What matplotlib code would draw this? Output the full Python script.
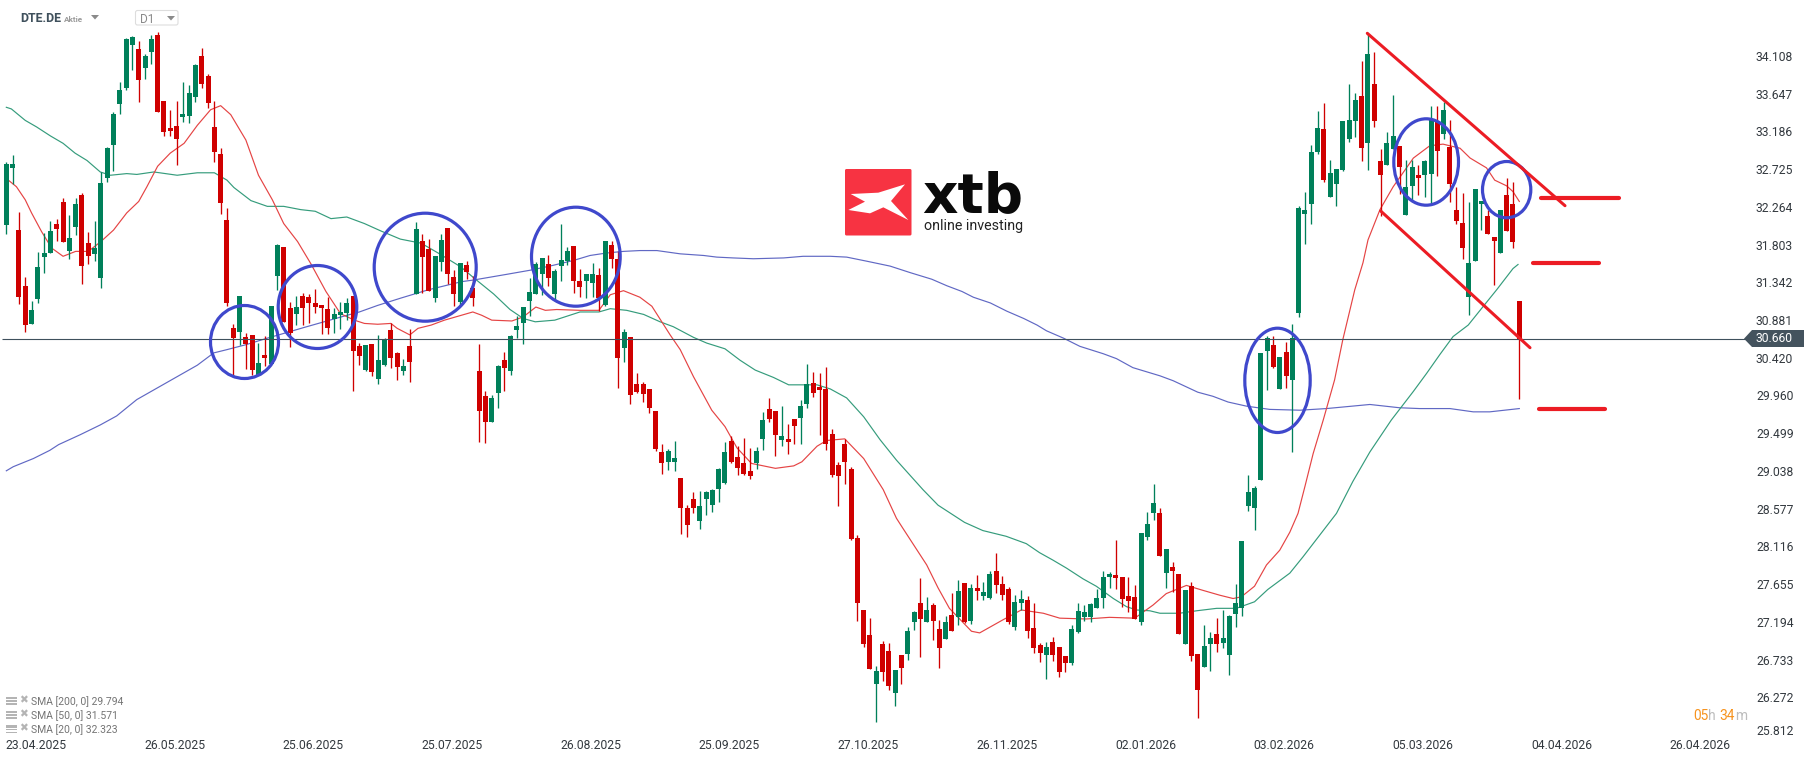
import matplotlib
matplotlib.use("Agg")
import matplotlib.pyplot as plt
import matplotlib.patheffects as pe
from matplotlib.patches import Ellipse, Polygon, Rectangle, FancyBboxPatch
from matplotlib.transforms import ScaledTranslation

plt.rcParams['font.family'] = ['Roboto', 'DejaVu Sans']

opens = [
 32.05,32.75,31.99,31.31,30.84,31.15,31.66,31.71,32.06,32.33,
 31.74,32.03,32.42,31.83,31.70,31.41,32.63,33.03,33.53,33.73,
 34.25,34.20,33.97,34.17,34.37,33.57,33.24,33.26,33.37,33.38,
 33.62,34.12,33.87,33.25,32.92,32.11,30.80,30.75,30.69,30.71,
 30.22,30.47,30.36,31.43,31.78,31.04,30.97,31.19,31.17,31.10,
 31.08,31.03,30.91,30.95,30.98,31.19,30.58,30.28,30.60,30.17,
 30.34,30.77,30.49,30.27,30.58,31.21,31.86,31.76,31.16,31.60,
 32.02,31.42,31.11,31.56,31.28,30.27,29.96,29.64,30.00,30.40,
 30.27,30.77,30.86,31.12,31.21,31.45,31.58,31.21,31.55,31.61,
 31.80,31.37,31.37,31.34,31.44,31.08,31.81,31.64,30.55,30.69,
 30.11,30.11,30.05,29.78,29.28,29.16,29.16,28.96,28.59,28.71,
 28.44,28.71,28.63,28.83,28.90,29.42,29.22,29.15,29.05,29.15,
 29.44,29.81,29.78,29.43,29.44,29.68,29.70,29.87,30.12,30.07,
 30.05,29.50,29.12,29.38,29.07,28.23,27.35,27.05,26.44,26.94,
 26.85,26.33,26.80,26.81,27.20,27.44,27.20,27.41,27.12,26.99,
 27.29,27.27,27.68,27.22,27.62,27.52,27.50,27.83,27.67,27.61,
 27.14,27.44,27.47,27.13,26.92,26.80,26.96,26.90,26.79,26.70,
 27.08,27.27,27.27,27.38,27.50,27.75,27.78,27.75,27.52,27.51,
 27.20,28.24,28.54,28.54,27.80,27.88,27.79,26.94,27.64,26.81,
 26.65,26.94,27.06,26.95,26.80,27.30,27.38,28.62,28.60,28.94,
 30.51,30.59,30.05,30.50,30.16,30.98,32.19,32.31,32.94,33.23,
 32.40,32.55,32.72,33.10,33.32,33.63,33.05,33.77,32.83,32.79,
 32.98,33.02,32.17,32.53,32.66,32.66,32.68,33.32,33.16,33.00,
 32.24,32.08,31.17,31.61,32.31,32.16,31.91,31.71,32.42,32.31,
 31.12]
closes = [
 32.80,32.80,31.17,30.83,31.01,31.54,31.71,31.98,32.00,31.85,
 31.89,32.31,31.55,31.67,31.77,32.57,32.99,33.41,33.70,34.32,
 34.35,33.82,34.12,34.32,33.43,33.19,33.20,33.10,33.41,33.66,
 34.01,33.77,33.54,32.94,32.32,31.10,30.67,31.19,30.60,30.28,
 30.37,30.43,31.06,31.81,30.87,30.73,31.05,31.04,31.10,31.05,
 31.04,30.80,30.97,30.99,31.10,30.51,30.45,30.59,30.26,30.40,
 30.66,30.43,30.32,30.33,30.38,32.00,31.66,31.25,31.67,31.87,
 31.45,31.21,31.59,31.48,31.16,29.78,29.65,29.94,30.33,30.31,
 30.70,30.82,31.05,31.23,31.58,31.65,31.41,31.49,31.63,31.74,
 31.37,31.30,31.45,31.45,31.16,31.86,31.64,30.43,30.75,29.98,
 30.01,29.99,29.82,29.32,29.15,29.29,29.21,28.60,28.39,28.60,
 28.62,28.79,28.82,29.07,29.28,29.16,29.09,29.01,28.99,29.29,
 29.67,29.68,29.49,29.48,29.40,29.60,29.84,30.11,30.00,30.04,
 29.38,29.00,28.99,29.16,28.22,27.44,26.94,26.63,26.61,26.59,
 26.42,26.62,26.64,27.09,27.33,27.24,27.35,27.22,26.89,27.20,
 27.09,27.58,27.20,27.62,27.58,27.57,27.79,27.66,27.53,27.20,
 27.45,27.49,27.09,26.89,26.83,26.90,26.80,26.59,26.70,27.12,
 27.34,27.33,27.42,27.50,27.75,27.79,27.74,27.49,27.46,27.24,
 28.29,28.40,28.66,28.01,28.10,27.82,27.06,27.60,26.79,26.37,
 26.91,27.01,26.94,27.01,27.28,27.44,28.19,28.79,28.84,30.49,
 30.67,30.32,30.44,30.21,30.67,32.26,32.24,32.94,33.24,32.60,
 32.69,32.74,33.32,33.33,33.58,32.99,34.14,33.32,32.66,33.05,
 33.14,32.76,32.52,32.76,32.63,32.83,33.33,32.96,33.46,32.55,
 32.10,31.77,31.59,32.49,32.35,31.94,31.86,32.24,31.98,31.85,
 30.66]
highs = [
 32.82,32.91,32.21,31.42,31.12,31.72,31.96,32.10,32.13,32.38,
 32.17,32.38,32.44,31.97,32.10,32.70,33.00,33.43,33.80,34.34,
 34.36,34.30,34.14,34.37,34.41,33.57,33.46,33.57,33.80,33.76,
 34.02,34.21,33.90,33.57,32.99,32.26,30.84,31.19,30.73,30.71,
 30.61,30.70,31.06,31.82,31.78,31.11,31.19,31.22,31.21,31.27,
 31.08,31.17,31.04,31.11,31.16,31.19,30.61,30.59,30.60,30.71,
 30.67,30.86,30.50,30.42,30.78,32.09,31.94,31.88,31.67,31.94,
 32.02,31.50,31.59,31.61,31.43,30.60,30.03,29.98,30.34,30.50,
 30.71,30.94,31.05,31.41,31.60,31.65,31.69,31.52,32.06,31.78,
 31.80,31.52,31.45,31.59,31.53,31.86,31.86,31.74,30.78,30.69,
 30.25,30.14,30.05,29.78,29.38,29.32,29.42,28.96,28.63,28.79,
 28.80,28.80,28.83,29.09,29.40,29.48,29.35,29.45,29.33,29.34,
 29.77,29.94,29.78,29.84,29.62,29.68,29.92,30.36,30.26,30.25,
 30.32,29.56,29.16,29.44,29.10,28.27,27.35,27.25,26.67,26.97,
 26.95,26.62,26.80,27.14,27.34,27.74,27.51,27.44,27.23,27.28,
 27.56,27.72,27.68,27.67,27.78,27.69,27.83,28.05,27.77,27.63,
 27.53,27.59,27.52,27.44,26.95,26.96,27.02,26.90,26.79,27.17,
 27.44,27.41,27.44,27.61,27.83,27.81,28.21,27.75,27.75,27.66,
 28.29,28.55,28.89,28.60,28.10,27.93,27.79,27.60,27.69,26.81,
 27.17,27.08,27.25,27.35,27.29,27.67,28.19,29.00,28.87,30.49,
 30.70,30.70,30.44,30.62,30.84,32.29,32.46,33.03,33.45,33.54,
 32.85,32.74,33.32,33.77,33.66,34.05,34.39,34.17,32.98,33.19,
 33.64,33.02,32.85,32.85,32.79,32.85,33.51,33.51,33.55,33.33,
 32.52,32.44,32.33,32.49,32.35,32.24,31.91,32.24,32.63,32.58,
 31.12]
lows = [
 31.94,32.55,31.09,30.75,30.84,31.10,31.47,31.71,31.86,31.85,
 31.64,31.93,31.33,31.58,31.61,31.28,32.58,32.71,33.41,33.70,
 33.95,33.55,33.84,34.02,33.43,33.14,33.14,32.79,33.31,33.30,
 33.55,33.73,33.48,32.82,32.19,31.06,30.20,30.59,30.29,30.22,
 30.22,30.33,30.36,31.26,30.87,30.56,30.83,30.83,30.86,30.98,
 30.72,30.72,30.73,30.78,30.89,30.03,30.34,30.27,30.21,30.11,
 30.33,30.31,30.16,30.22,30.14,31.21,31.22,31.25,31.11,31.49,
 31.33,31.06,31.06,31.39,31.06,29.40,29.39,29.64,29.82,30.03,
 30.22,30.67,30.60,30.94,31.21,31.20,31.31,31.12,31.37,31.56,
 31.22,31.17,31.16,31.17,31.00,31.06,31.53,30.06,30.38,29.87,
 30.00,29.89,29.76,29.29,29.01,29.06,29.05,28.28,28.24,28.54,
 28.34,28.51,28.55,28.67,28.89,29.15,29.00,29.00,28.95,29.07,
 29.31,29.65,29.23,29.35,29.26,29.38,29.38,29.82,29.95,29.49,
 29.31,28.98,28.62,28.89,28.21,27.22,26.90,26.63,25.98,26.48,
 26.37,26.18,26.45,26.74,27.11,26.78,27.20,26.98,26.64,26.99,
 27.09,27.17,27.19,27.18,27.47,27.47,27.49,27.56,27.47,27.18,
 27.11,27.35,27.01,26.83,26.72,26.51,26.73,26.53,26.59,26.68,
 27.07,27.22,27.20,27.38,27.38,27.62,27.61,27.39,27.33,27.24,
 27.17,28.21,28.45,28.01,27.62,27.57,27.06,26.94,26.73,26.03,
 26.65,26.61,26.84,26.89,26.55,27.14,27.28,28.56,28.33,28.94,
 30.04,30.31,30.05,30.06,29.28,30.93,31.82,32.07,32.92,32.58,
 32.40,32.29,32.71,33.07,33.13,32.83,32.72,33.25,32.16,32.79,
 32.98,32.43,32.17,32.36,32.42,32.40,32.32,32.65,33.10,32.33,
 32.07,31.64,30.95,31.61,31.99,31.94,31.32,31.71,31.98,31.77,
 29.93]

sma20_pos = [0,1.6,3,4,5.6,7.2,9,11,13,15,17,19.1,21,22.3,24,26,28.2,30.3,32.4,34,35.6,38,40,42.2,44,46.2,48.3,50.7,53,55.2,56.8,58.9,61,62,64,65.3,67.4,69.5,72.2,
 74,75.4,77,80.2,82,84,85.5,87.3,91,94,95.8,97.9,100.5,102.4,105.3,106.9,109,111.9,114,115.9,118.2,122,124.9,126.2,128.6,130.1,133,136,139.1,141.2,142.2,146,147.8,149.6,153.1,154.4,158.1,161,164.5,167.1,171.3,175,179,181.9,184,187.2,189.8,192.5,194.6,195.9,198,199.9,202,203.6,204.9,206,207.3,208.9,210.7,212,213.9,215.2,216,217.9,220,223.2,225.8,227.9,230.6,232.2,234.8,236.1,238,239,240]
sma20_val = [32.62,32.52,32.36,32.20,31.97,31.77,31.67,31.73,31.73,31.85,31.99,32.20,32.34,32.52,32.77,32.93,33.05,33.27,33.46,33.51,33.40,33.09,32.66,32.36,32.07,31.85,31.58,31.24,30.97,30.89,30.85,30.84,30.85,30.79,30.71,30.79,30.83,30.89,30.95,
 30.99,30.95,30.89,30.88,30.93,31.05,31.01,31.02,31.01,31.01,31.20,31.25,31.17,31.06,30.71,30.53,30.20,29.79,29.59,29.33,29.14,29.08,29.11,29.16,29.35,29.42,29.44,29.20,28.82,28.47,28.35,27.90,27.62,27.37,27.09,27.07,27.23,27.35,27.31,27.25,27.24,27.26,27.25,27.41,27.55,27.65,27.59,27.53,27.49,27.51,27.64,27.90,28.08,28.30,28.53,28.86,29.26,29.67,30.16,30.65,31.26,31.59,31.87,32.24,32.52,32.87,33.02,33.04,32.99,32.87,32.75,32.60,32.53,32.46,32.34]

sma50_pos = [0,0.8,3,4.8,7,9,10.9,12.8,14.9,16.5,19.1,20.7,23.4,27.1,30.3,33,35,36.1,38.8,41.4,44,46.7,49,51.5,54,56.8,59.4,62.5,65.8,68.5,72.1,
 74.1,77.3,79.9,82,83.9,87,91,94,95.8,98.4,101.1,103.7,105.8,109,111.1,114,116.4,118.8,121.7,124.1,128.6,130.7,133.3,136,138.6,141.2,143.3,145.4,147.8,149.6,152,154.9,158.6,161.8,163.9,166,168.2,170.8,172.9,175.6,177.7,179.3,181.4,183,186.1,188.8,192,195.1,198,200.1,203.6,205.7,208.4,211,213.6,216.3,219.7,223.2,225.3,227.4,229.5,231.9,234.3,236.4,238,239,239.8]
sma50_val = [33.49,33.47,33.33,33.25,33.14,33.05,32.93,32.84,32.70,32.66,32.68,32.67,32.70,32.66,32.69,32.69,32.60,32.51,32.35,32.28,32.28,32.24,32.22,32.13,32.15,32.07,31.98,31.88,31.83,31.71,31.54,
 31.41,31.21,31.02,30.91,30.87,30.89,30.99,30.99,31.03,31.01,30.96,30.87,30.81,30.68,30.61,30.54,30.40,30.28,30.19,30.10,30.10,30.05,29.94,29.71,29.43,29.18,29.00,28.82,28.63,28.54,28.42,28.32,28.25,28.16,28.05,27.96,27.86,27.73,27.64,27.49,27.39,27.35,27.34,27.31,27.31,27.34,27.37,27.37,27.45,27.60,27.80,28.00,28.27,28.53,28.92,29.28,29.67,30.02,30.24,30.47,30.69,30.83,31.06,31.26,31.42,31.52,31.57]

sma200_pos = [0,1.1,4.3,6.9,8.3,11.7,14.9,17.5,20.7,23.9,27.1,30.3,32.9,35,38,41.4,44.1,47.2,50.4,53.6,56,58.9,62.6,66.9,72.2,
 74.1,79.4,83.1,86.2,90,92.6,95.2,97.9,100.5,103.2,106.9,110.6,112.7,115.3,118.5,123.3,126.4,130.7,133.3,136.5,140.2,143.4,146.8,149.2,151.6,153.4,156.1,158.7,161.4,163.5,165,167.7,170.3,174,176.1,178.7,183,185.1,189,191.4,193.8,196.7,200.4,205.2,209.4,216.3,221,224.2,229,232.7,235.3,240]
sma200_val = [29.05,29.10,29.20,29.30,29.37,29.49,29.61,29.72,29.92,30.06,30.20,30.34,30.49,30.53,30.59,30.67,30.73,30.80,30.87,30.94,30.99,31.07,31.16,31.26,31.36,
 31.38,31.45,31.50,31.55,31.62,31.68,31.71,31.73,31.74,31.74,31.70,31.68,31.66,31.65,31.64,31.65,31.67,31.67,31.66,31.61,31.55,31.47,31.39,31.31,31.24,31.17,31.10,31.00,30.91,30.83,30.76,30.67,30.57,30.48,30.42,30.31,30.21,30.15,30.01,29.96,29.89,29.84,29.80,29.79,29.81,29.86,29.82,29.81,29.81,29.77,29.77,29.81]

y_ticks = [34.108,33.647,33.186,32.725,32.264,31.803,31.342,30.881,30.420,29.960,29.499,29.038,28.577,28.116,27.655,27.194,26.733,26.272]
y_bottom_label = "25.812"
last_price = 30.66
x_tick_pos = [4.7,26.7,48.7,70.7,92.7,114.7,136.7,158.7,180.7,202.7,224.7,246.7,268.7]
x_tick_labels = ["23.04.2025","26.05.2025","25.06.2025","25.07.2025","26.08.2025","25.09.2025","27.10.2025","26.11.2025","02.01.2026","03.02.2026","05.03.2026","04.04.2026","26.04.2026"]
legend_rows = ["SMA [200, 0] 29.794","SMA [50, 0] 31.571","SMA [20, 0] 32.323"]

W, H = 1816, 761
GREEN, RED = "#00805a", "#cf0000"
fig = plt.figure(figsize=(W/100, H/100), dpi=100, facecolor="white")
ax = fig.add_axes([0, 0, 1, 1])
PX_PER_BAR = 6.304
PX_PER_UNIT = 81.87
ax.set_xlim(-6.33/PX_PER_BAR, (W-6.33)/PX_PER_BAR)
ax.set_ylim(34.8005-H/PX_PER_UNIT, 34.8005)
for s in ax.spines.values():
    s.set_visible(False)

ax.plot(sma200_pos, sma200_val, color="#6068c4", lw=0.85, zorder=2)
ax.plot(sma50_pos, sma50_val, color="#359c7c", lw=0.85, zorder=2)
ax.plot(sma20_pos, sma20_val, color="#e54444", lw=0.85, zorder=2)

xs = list(range(len(opens)))
cols = [GREEN if c >= o else RED for o, c in zip(opens, closes)]
ax.vlines(xs, lows, highs, colors=cols, lw=0.95, zorder=3)
ax.bar(xs, [abs(c-o) for o, c in zip(opens, closes)], bottom=[min(o, c) for o, c in zip(opens, closes)],
       width=5/PX_PER_BAR, color=cols, linewidth=0, zorder=3)

ax.hlines(last_price, 2/PX_PER_BAR-1, (1746-6.33)/PX_PER_BAR, color="#3f505c", lw=0.8, zorder=4)

ax.yaxis.tick_right()
ax.set_yticks(y_ticks)
ax.set_yticklabels([f"{v:.3f}" for v in y_ticks], fontsize=8.7, color="#33393f", ha="left")
ax.tick_params(axis="y", length=0, pad=-43.2)
for lab in ax.get_yticklabels():
    lab.set_transform(lab.get_transform() + ScaledTranslation(0, 0.8/100, fig.dpi_scale_trans))
ax.set_xticks(x_tick_pos)
ax.set_xticklabels(x_tick_labels, fontsize=8.7, color="#33393f")
ax.tick_params(axis="x", length=0, pad=-15.8)

# overlay in pixel coordinates for the hand-drawn annotations and the platform furniture
ov = fig.add_axes([0, 0, 1, 1], facecolor="none")
ov.set_xlim(0, W)
ov.set_ylim(H, 0)
ov.axis("off")

for x0, x1, y0, y1 in [(209,280,304,380),(276.7,358.3,264,350),(372.7,477.7,211.7,322.7),(530,621.7,205.7,307.7),
                       (1243.3,1311.7,326.7,434),(1392.3,1460,117.3,206.7),(1481,1532.3,160,219.3)]:
    ov.add_patch(Ellipse(((x0+x1)/2, (y0+y1)/2), x1-x0-3, y1-y0-3, fill=False, ec="#3f48cc", lw=2.3, zorder=6))

for (x0, y0), (x1, y1) in [((1367.3,33.3),(1565,205.7)),((1380.7,211),(1530,347.7))]:
    ov.plot([x0, x1], [y0, y1], color="#ec1c24", lw=2.2, solid_capstyle="round", zorder=7)
for x0, x1, y in [(1541,1619,198.3),(1533.3,1599,263.3),(1539.3,1605,409.3)]:
    ov.plot([x0, x1], [y, y], color="#ec1c24", lw=3.0, solid_capstyle="round", zorder=7)

# price tag
ov.add_patch(Polygon([(1744,338.7),(1752,330),(1804,330),(1804,347),(1752,347)], closed=True, fc="#44535e", ec="none", zorder=8))
ov.text(1756, 338.7, f"{last_price:.3f}", color="white", fontsize=8.7, va="center", ha="left", zorder=9)
ov.text(1756, 731.7, y_bottom_label, color="#33393f", fontsize=8.7, va="center", ha="left")

# logo
ov.add_patch(FancyBboxPatch((845,169),66.5,66.5,boxstyle="round,pad=0,rounding_size=1.5",fc="#f73342",ec="none",zorder=5))
pts = [(92,132),(175,128),(255,103),(213,153),(265,210),(190,172),(150,190),(85,180),(135,155)]
ov.add_patch(Polygon([(820+a/3,150+b/3) for a,b in pts],closed=True,fc="white",ec="none",zorder=6))
ov.text(922, 212, "xtb", fontsize=39.6, fontweight="bold", color="#0a0a0a", ha="left", va="baseline", zorder=6,
        family=["DejaVu Sans"])
ov.text(924, 226, "online investing", fontsize=10.3, color="#222222", ha="left", va="center", zorder=6)

# header
ov.text(20, 18.5, "DTE.DE", fontsize=8.9, fontweight="bold", color="#3f505c", va="center", ha="left")
ov.text(63.7, 19, "Aktie", fontsize=5.9, fontweight="bold", color="#9a9a9a", va="center", ha="left")
ov.add_patch(Polygon([(91,15),(99,15),(95,19.5)],closed=True,fc="#8a8a8a",ec="none"))
ov.add_patch(FancyBboxPatch((135.5,10.5),42.5,14.5,boxstyle="round,pad=0,rounding_size=2",fc="white",ec="#dddddd",lw=0.8))
ov.text(140, 19.5, "D1", fontsize=8.6, color="#8a8a8a", va="center", ha="left")
ov.add_patch(Polygon([(167,16),(175,16),(171,20.5)],closed=True,fc="#8a8a8a",ec="none"))

# indicator legend
for y, label in zip([701,715,729.3], legend_rows):
    for dy, h in [(-4,2.2),(-0.8,1.5),(2.2,1.5)]:
        ov.add_patch(Rectangle((6,y+dy),11,h,fc="#b4b4b4",ec="none"))
    ov.text(23.5, y-0.5, "\u2716", fontsize=7.6, color="#b4b4b4", ha="center", va="center", family=["DejaVu Sans"])
    ov.text(31, y+0.5, label, fontsize=7.5, color="#747474", va="center", ha="left")

# countdown
for x, s, c in [(1693,"05","#f7931e"),(1708.4,"h","#bdbdbd"),(1719.5,"34","#f7931e"),(1735,"m","#bdbdbd")]:
    ov.text(x, 716, s, fontsize=9.9, color=c, va="center", ha="left")

fig.savefig("out.png", dpi=100, facecolor="white")
